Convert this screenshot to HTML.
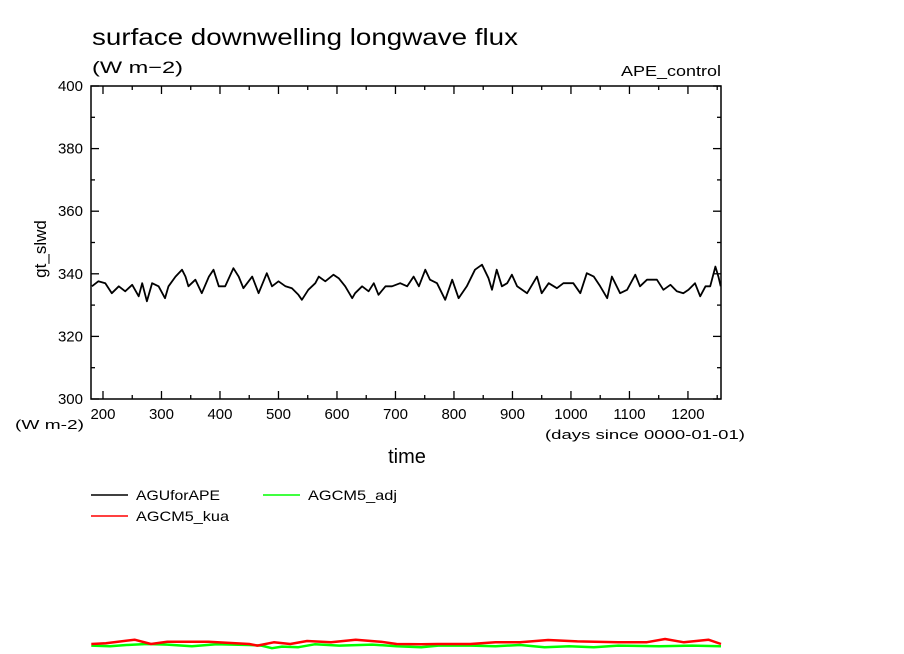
<!DOCTYPE html>
<html><head><meta charset="utf-8"><style>
body{margin:0;background:#fff;}
svg{display:block;font-family:"Liberation Sans",sans-serif;}
</style></head><body>
<svg id="chart" width="904" height="654" viewBox="0 0 904 654" xmlns="http://www.w3.org/2000/svg">
<rect x="0" y="0" width="904" height="654" fill="#fff"/>
<text x="92" y="45" font-size="23" textLength="426" lengthAdjust="spacingAndGlyphs">surface downwelling longwave flux</text>
<text x="92" y="73" font-size="17" textLength="91" lengthAdjust="spacingAndGlyphs">(W m−2)</text>
<text x="621" y="76" font-size="15" textLength="100" lengthAdjust="spacingAndGlyphs">APE_control</text>
<text x="15" y="429" font-size="13" textLength="69" lengthAdjust="spacingAndGlyphs">(W m-2)</text>
<text x="545" y="439" font-size="13" textLength="200" lengthAdjust="spacingAndGlyphs">(days since 0000-01-01)</text>
<text x="407" y="463" font-size="20" text-anchor="middle">time</text>
<text transform="translate(46,249) rotate(-90)" font-size="17" text-anchor="middle">gt_slwd</text>
<g id="axes"></g>
<g id="series"></g>
<g>
<g><line x1="91" y1="495" x2="128" y2="495" stroke="#000" stroke-width="1.5"/><text x="136" y="500" font-size="14" textLength="84" lengthAdjust="spacingAndGlyphs">AGUforAPE</text></g>
<g><line x1="263" y1="495" x2="300" y2="495" stroke="#00ff00" stroke-width="1.5"/><text x="308" y="500" font-size="14" textLength="89" lengthAdjust="spacingAndGlyphs">AGCM5_adj</text></g>
<g><line x1="91" y1="516" x2="128" y2="516" stroke="#ff0000" stroke-width="1.5"/><text x="136" y="521" font-size="14" textLength="93" lengthAdjust="spacingAndGlyphs">AGCM5_kua</text></g>
</g>
</svg>
<script>
const xTicks=[200,300,400,500,600,700,800,900,1000,1100,1200];
const yTicks=[300,320,340,360,380,400];
const aguDays=[181,192,204,215,227,238,250,261,267,275,284,295,306,312,324,335,341,346,358,369,381,389,398,409,423,432,440,449,455,466,480,489,500,512,523,534,540,551,563,569,580,594,603,614,626,631,643,654,663,671,683,694,708,720,731,740,751,759,771,785,797,808,822,836,848,859,865,873,882,891,899,908,925,942,950,962,976,987,1004,1016,1027,1039,1050,1062,1070,1084,1096,1110,1118,1130,1147,1158,1170,1181,1192,1201,1212,1221,1230,1238,1247,1252,1256];
const aguVals=[336.0,337.6,337.0,333.8,336.0,334.4,336.5,332.8,337.0,331.2,337.0,336.0,332.2,336.0,339.1,341.3,339.1,336.0,338.1,333.8,339.1,341.3,336.0,336.0,341.8,339.1,335.4,337.6,339.1,333.8,340.2,336.0,337.6,336.0,335.4,333.3,331.7,334.9,337.0,339.1,337.6,339.7,338.6,336.0,332.2,333.8,336.0,334.4,337.0,333.3,336.0,336.0,337.0,336.0,339.1,336.0,341.3,338.1,337.0,331.7,338.1,332.2,336.0,341.3,342.9,338.6,334.9,341.3,336.0,337.0,339.7,336.0,333.8,339.1,333.8,337.0,335.4,337.0,337.0,333.8,340.2,339.1,336.0,332.2,339.1,333.8,334.9,339.7,336.0,338.1,338.1,334.9,336.5,334.4,333.8,334.9,337.0,332.8,336.0,336.0,342.3,339.1,336.0];
const kuaDays=[180,205,254,282,310,380,450,464,492,520,549,590,632,674,702,744,772,828,871,913,961,1011,1081,1130,1161,1193,1235,1257];
const kuaVals=[335,336.8,345.8,335,340.8,340.8,335,331,339.2,335,342.4,339.2,345.8,340.8,335,334.6,335,335,339.2,339.2,345,341.6,339.2,339.6,347.4,339.2,345.8,335];
const adjDays=[180,212,240,275,310,352,394,450,471,489,506,534,562,604,660,702,744,773,829,871,913,955,997,1039,1081,1151,1207,1257];
const adjVals=[331,329.4,332.6,335.1,333.5,329.4,334.3,332.6,331,324.4,328.5,326.9,334.3,331,333.5,329.4,326.9,331,331,329.4,332.6,326.9,329.4,326.9,331,329.4,331,329.4];

const L=91,R=721,T=86,B=399,X0=179.5,X1=1256.5,Y0=300,Y1=400;
function xs(d){return L+(d-X0)/(X1-X0)*(R-L);}
function ys(v){return B-(v-Y0)/(Y1-Y0)*(B-T);}
function ysBottom(v){return 642-(v-340)/2.5;}
const NS="http://www.w3.org/2000/svg";
function mk(tag,attrs,parent){const e=document.createElementNS(NS,tag);for(const k in attrs)e.setAttribute(k,attrs[k]);parent.appendChild(e);return e;}
const axes=document.getElementById('axes');
const frame=mk('rect',{x:L,y:T,width:R-L,height:B-T,fill:'none',stroke:'#000','stroke-width':1.5},axes);


for(let v=Y0;v<=Y1;v+=10){
  const y=ys(v),len=(v%20===0)?8:4;
  const t1=mk('line',{x1:L,y1:y,x2:L+len,y2:y,stroke:'#000','stroke-width':1.3},axes);
  
  
  const t2=mk('line',{x1:R,y1:y,x2:R-len,y2:y,stroke:'#000','stroke-width':1.3},axes);
  
  
}
yTicks.forEach(v=>{
  const t=mk('text',{x:83,y:ys(v)+5,'font-size':15,'text-anchor':'end'},axes);
  t.textContent=v;
  
  
});
for(let d=200;d<=1250;d+=50){
  const x=xs(d),len=(d%100===0)?8:4;
  const t1=mk('line',{x1:x,y1:B,x2:x,y2:B-len,stroke:'#000','stroke-width':1.3},axes);
  
  
  const t2=mk('line',{x1:x,y1:T,x2:x,y2:T+len,stroke:'#000','stroke-width':1.3},axes);
  
  
}
xTicks.forEach(d=>{
  const t=mk('text',{x:xs(d),y:419,'font-size':15,'text-anchor':'middle'},axes);
  t.textContent=d;
  
  
});
const ser=document.getElementById('series');
function path(days,vals,scale,color,name,w){
  const d=days.map((dd,i)=>(i?'L':'M')+Math.max(L,Math.min(R,xs(dd))).toFixed(1)+','+scale(vals[i]).toFixed(1)).join('');
  const p=mk('path',{d:d,fill:'none',stroke:color,'stroke-width':w,'stroke-linejoin':'round'},ser);
  
  
}
path(adjDays,adjVals,ysBottom,'#00ff00','agcm5-adj-line',2.5);
path(kuaDays,kuaVals,ysBottom,'#ff0000','agcm5-kua-line',2.5);
path(aguDays,aguVals,ys,'#000','aguforape-line',1.8);
</script>
</body></html>
